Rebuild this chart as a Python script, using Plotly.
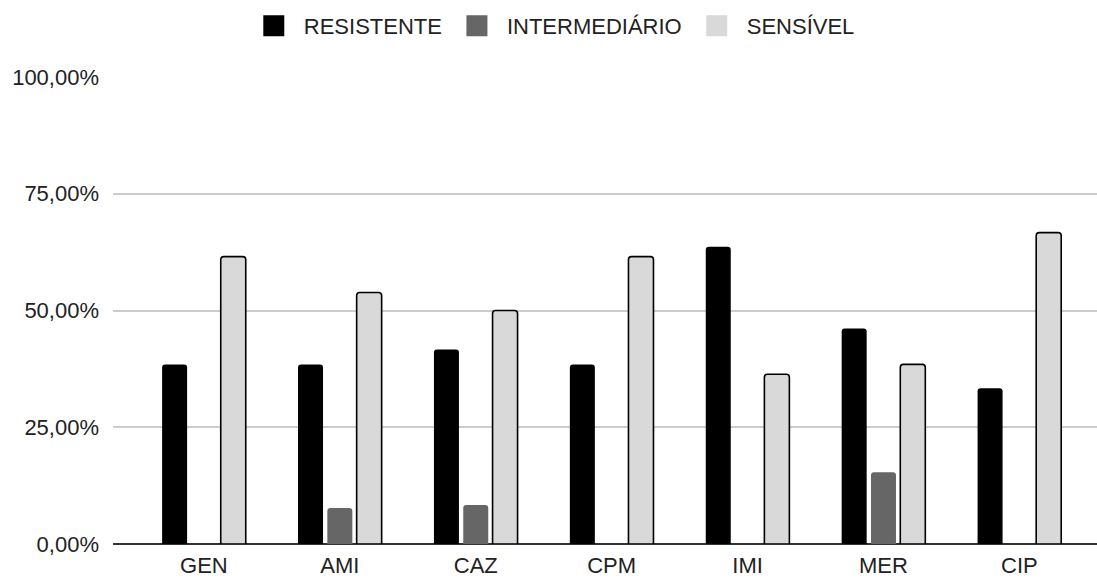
import plotly.graph_objects as go

# Antimicrobial susceptibility profile (% of isolates)
antibioticos = ["GEN", "AMI", "CAZ", "CPM", "IMI", "MER", "CIP"]
resistente = [38.46, 38.46, 41.67, 38.46, 63.64, 46.15, 33.33]
intermediario = [0.0, 7.69, 8.33, 0.0, 0.0, 15.38, 0.0]
sensivel = [61.54, 53.85, 50.00, 61.54, 36.36, 38.46, 66.67]

y_ticks = [0, 25, 50, 75, 100]

series = [
    ("RESISTENTE", resistente, "#000000", dict(color="#000000", width=0)),
    ("INTERMEDIÁRIO", intermediario, "#666666", dict(color="#666666", width=0)),
    ("SENSÍVEL", sensivel, "#d9d9d9", dict(color="#000000", width=1.6)),
]

FONT = "Liberation Sans, Arial, sans-serif"
TEXT = "#222222"

fig = go.Figure()
for name, vals, color, line in series:
    # values are percentages; the axis shows them as fractions formatted with %
    fig.add_trace(go.Bar(
        x=antibioticos, y=[v / 100 for v in vals], name=name,
        marker=dict(color=color, line=line),
        legendgroup=name, showlegend=False,
    ))
    # legend swatch (bigger square than the default bar icon)
    fig.add_trace(go.Scatter(
        x=[None], y=[None], mode="markers", name=name, legendgroup=name,
        marker=dict(symbol="square", size=16, color=color,
                    line=dict(color=color, width=5)),
    ))

fig.update_layout(
    width=1097, height=578,
    margin=dict(l=113, r=0, t=77, b=34),
    paper_bgcolor="white", plot_bgcolor="white",
    font=dict(family=FONT, size=22, color=TEXT),
    separators=",.",
    barmode="group", bargap=0.353, bargroupgap=0.147,
    barcornerradius=3,
    showlegend=True,
    legend=dict(
        orientation="h", xref="container", yref="container",
        x=0.503, xanchor="center", y=0.955, yanchor="middle",
        itemwidth=50, font=dict(family=FONT, size=22, color=TEXT),
        itemclick=False, itemdoubleclick=False,
    ),
)

fig.update_xaxes(
    type="category", range=[-0.669, 6.571],
    showgrid=False, showline=False, zeroline=False,
    ticks="", ticklabelstandoff=6, automargin=False,
    tickfont=dict(family=FONT, size=22, color=TEXT),
)
fig.update_yaxes(
    range=[0, 1], tickvals=[t / 100 for t in y_ticks], tickformat=".2%",
    showgrid=True, gridcolor="#cccccc", gridwidth=1.5,
    zeroline=True, zerolinecolor="#333333", zerolinewidth=2,
    showline=False, ticks="", ticklabelstandoff=13, automargin=False,
    tickfont=dict(family=FONT, size=22, color=TEXT),
)

fig.write_html("out.html")
